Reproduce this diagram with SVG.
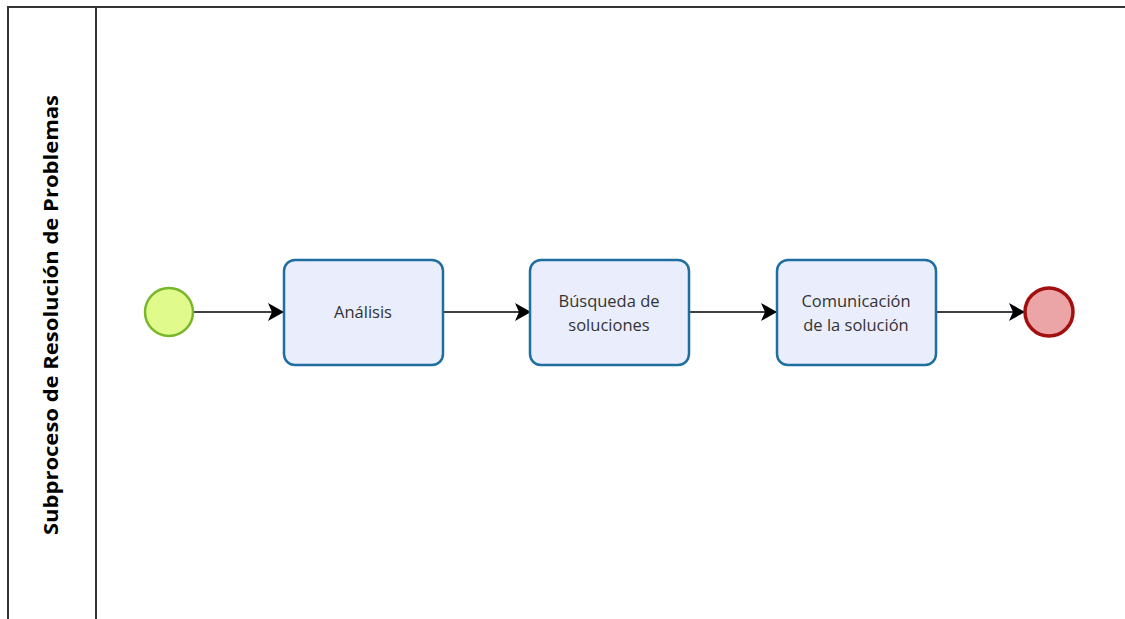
<svg xmlns="http://www.w3.org/2000/svg" width="1125" height="619" viewBox="0 0 1125 619">
<defs>
<marker id="arr" viewBox="0 0 16 18" refX="15" refY="9" markerWidth="16" markerHeight="18" markerUnits="userSpaceOnUse" orient="auto">
<path d="M0,0 L16,9 L0,18 L4,9 Z" fill="#000"/>
</marker>
</defs>
<style>
.lane{fill:none;stroke:#333;stroke-width:2}
.task rect{fill:#eaeefc;stroke:#1e6e9e;stroke-width:2.5}
.t{font-family:"Open Sans","Noto Sans",sans-serif;font-size:16.5px;fill:#333;text-anchor:middle}
.c{stroke:#000;stroke-width:1.5;fill:none;marker-end:url(#arr)}
</style>
<rect width="1125" height="619" fill="#fff"/>
<g id="pool">
<path class="lane" d="M8,619 V7 H1125"/>
<line class="lane" x1="96" y1="7" x2="96" y2="619"/>
<text transform="translate(58,315) rotate(-90)" font-family="Open Sans,Noto Sans,sans-serif" font-weight="bold" font-size="20" fill="#000" text-anchor="middle" textLength="440" lengthAdjust="spacingAndGlyphs">Subproceso de Resolución de Problemas</text>
</g>
<g id="connectors">
<line class="c" x1="194" y1="312" x2="283" y2="312"/>
<line class="c" x1="443" y1="312" x2="530" y2="312"/>
<line class="c" x1="690" y1="312" x2="776" y2="312"/>
<line class="c" x1="937" y1="312" x2="1024" y2="312"/>
</g>
<g id="start"><circle cx="169" cy="312" r="24" fill="#e0fa8c" stroke="#78b72a" stroke-width="2.5"/></g>
<g id="t1" class="task"><rect x="284" y="260" width="159" height="105" rx="11"/><text class="t" x="363" y="318">Análisis</text></g>
<g id="t2" class="task"><rect x="530" y="260" width="159" height="105" rx="11"/><text class="t" x="609" y="307">Búsqueda de</text><text class="t" x="609" y="331">soluciones</text></g>
<g id="t3" class="task"><rect x="777" y="260" width="159" height="105" rx="11"/><text class="t" x="856" y="307">Comunicación</text><text class="t" x="856" y="331">de la solución</text></g>
<g id="end"><circle cx="1049" cy="312" r="24" fill="#eba5a6" stroke="#a30f0f" stroke-width="3.5"/></g>
</svg>
